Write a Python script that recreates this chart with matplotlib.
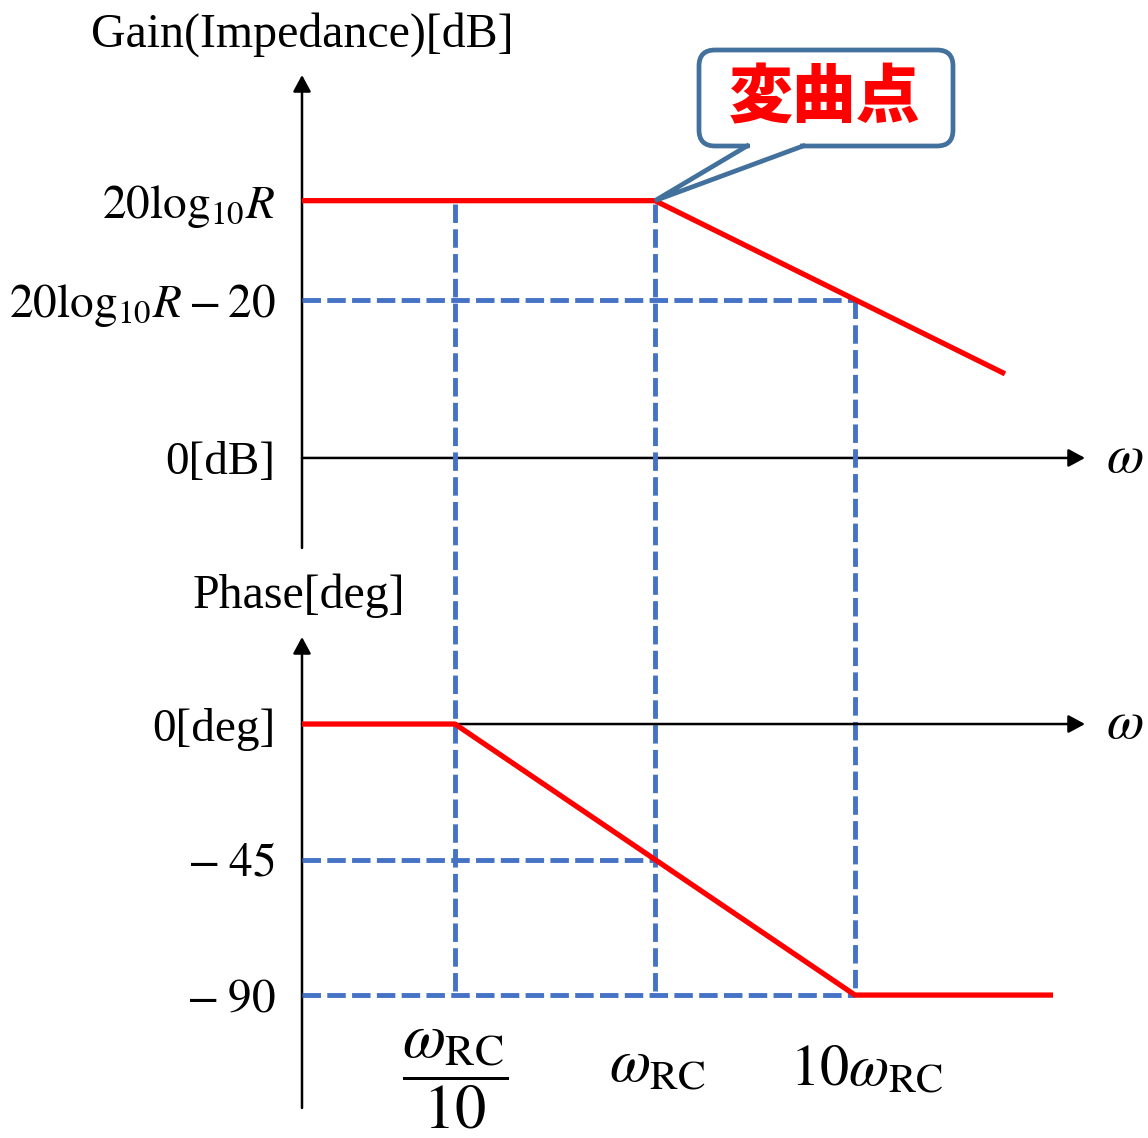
import matplotlib
matplotlib.use('Agg')
import matplotlib.pyplot as plt
from matplotlib.patches import FancyBboxPatch, Polygon

plt.rcParams['font.family'] = ['Liberation Serif', 'DejaVu Serif']
plt.rcParams['mathtext.fontset'] = 'stix'

# frequency axis in decades: log10(omega / omega_RC)
decades = [-1, 0, 1]
decade_labels = [r'$\dfrac{\omega_{\rm RC}}{10}$', r'$\omega_{\rm RC}$', r'$10\omega_{\rm RC}$']

# gain asymptote (20log10R sketched at 52 dB)
gain_levels = [0, 32, 52]
gain_labels = ['0[dB]', r'$20\mathrm{log}_{10}R-20$', r'$20\mathrm{log}_{10}R$']
gain_x = [-1.765, 0, 1.75]
gain_y = [52, 52, 17]

# phase asymptote
phase_levels = [0, -45, -90]
phase_labels = ['0[deg]', r'$-\;45$', r'$-\;90$']
phase_x = [-1.765, -1, 1, 1.99]
phase_y = [0, 0, -90, -90]

XMIN, XMAX = -1.765, 2.15
W, H = 1148, 1138
RED = '#FF0000'
BLUE = '#4472C4'
DASH = dict(color=BLUE, lw=3.5, dashes=(3.8, 1.3), solid_capstyle='butt', dash_capstyle='butt')
ARROW = dict(arrowstyle='-|>,head_length=0.5,head_width=0.27', mutation_scale=20,
             lw=1.8, color='black', shrinkA=0, shrinkB=0)

fig = plt.figure(figsize=(W / 100, H / 100), dpi=100)
ax_g = fig.add_axes([302 / W, 1 - 548 / H, 783 / W, 473 / H])
ax_p = fig.add_axes([302 / W, 1 - 1108 / H, 783 / W, 471 / H])
ax_g.set_ylim(-18.2, 77.4)
ax_p.set_ylim(-127.5, 28.9)

for ax in (ax_g, ax_p):
    ax.set_xlim(XMIN, XMAX)
    ax.patch.set_alpha(0)
    for s in ax.spines.values():
        s.set_visible(False)
    ax.set_xticks([])
    ax.tick_params(axis='y', length=0, pad=19, labelsize=34)
    ax.annotate('', xy=(0, 1), xytext=(0, 0), xycoords='axes fraction', arrowprops=ARROW, zorder=1)
    ax.annotate('', xy=(XMAX, 0), xytext=(XMIN, 0), arrowprops=ARROW, zorder=1)
    ax.annotate(r'$\omega$', xy=(XMAX, 0), xytext=(15, -10), textcoords='offset points',
                fontsize=39, ha='left', va='baseline', annotation_clip=False)

ax_g.set_yticks(gain_levels, gain_labels)
ax_p.set_yticks(phase_levels, phase_labels)

# asymptotes
ax_g.plot(gain_x, gain_y, color=RED, lw=3.8, zorder=4, solid_capstyle='butt')
ax_p.plot(phase_x, phase_y, color=RED, lw=3.8, zorder=4, solid_capstyle='butt')

# guides
def phase_in_gain(x, y):
    disp = ax_p.transData.transform((x, y))
    return ax_g.transData.inverted().transform(disp)[1]

ax_g.plot([XMIN, 1], [gain_levels[1], gain_levels[1]], zorder=3, **DASH)
tops = [gain_levels[2] - 0.6, gain_levels[2] - 0.6, gain_levels[1]]
for d, top in zip(decades, tops):
    ax_g.plot([d, d], [top, phase_in_gain(d, phase_levels[2])], clip_on=False, zorder=3, **DASH)
ax_p.plot([XMIN, 0], [phase_levels[1], phase_levels[1]], zorder=3, **DASH)
ax_p.plot([XMIN, 1], [phase_levels[2], phase_levels[2]], zorder=3, **DASH)

# frequency labels under the phase plot
offsets = [(0, -60), (2, -52), (8.6, -55)]
sizes = [45, 43, 42]
for d, lab, off, fs in zip(decades, decade_labels, offsets, sizes):
    ax_p.annotate(lab, xy=(d, phase_levels[2]), xytext=off, textcoords='offset points',
                  fontsize=fs, ha='center', va='center', annotation_clip=False)

fig.text(302 / W, 1 - 47 / H, 'Gain(Impedance)[dB]', ha='center', va='baseline', fontsize=34.5)
fig.text(299 / W, 1 - 608 / H, 'Phase[deg]', ha='center', va='baseline', fontsize=34.5)

# callout pointing at the corner frequency
ax_o = fig.add_axes([0, 0, 1, 1])
ax_o.set_xlim(0, W)
ax_o.set_ylim(H, 0)
ax_o.axis('off')
tip = ax_o.transData.inverted().transform(ax_g.transData.transform((decades[1], gain_levels[2])))
edge = '#41719C'
ax_o.add_patch(FancyBboxPatch((699, 50), 254, 96, boxstyle='round,pad=0,rounding_size=16',
                              fc='white', ec=edge, lw=3.4, zorder=5))
ax_o.add_patch(Polygon([(750, 140), (750, 148), tuple(tip), (800, 148), (800, 140)],
                       closed=True, fc='white', ec='none', zorder=6))
ax_o.plot([747, tip[0], 803], [146, tip[1], 146], color=edge, lw=3.4, zorder=7,
          solid_joinstyle='miter')
ax_o.text(825, 99, '変曲点', color=RED, fontsize=46, fontweight='heavy',
          family=['Noto Sans CJK JP', 'DejaVu Sans'], ha='center', va='center', zorder=8)

fig.savefig('out.png', dpi=100)
